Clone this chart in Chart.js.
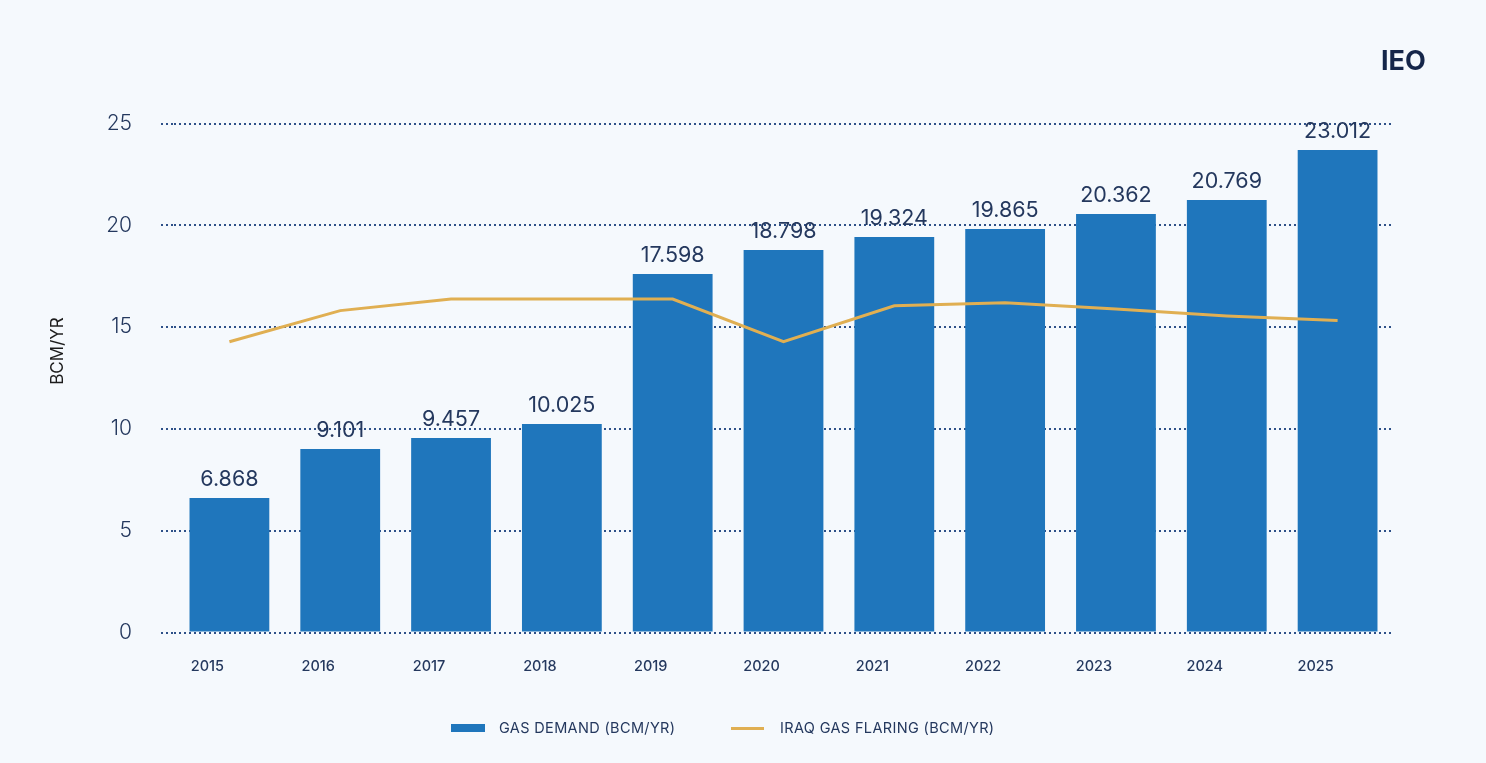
<!DOCTYPE html>
<html>
<head>
<meta charset="utf-8">
<script src="https://cdn.jsdelivr.net/npm/chart.js@4.4.1/dist/chart.umd.min.js"></script>
<style>
  html, body { margin: 0; padding: 0; background: #f5f9fd; }
  #wrap { position: relative; width: 1486px; height: 763px; }
  #ieo { position: absolute; left: 1381px; top: 44px; font: 700 27px Inter, sans-serif; color: #15264a; }
  #legend { position: absolute; top: 718px; left: 0; width: 1486px; font: 400 14.5px Inter, sans-serif; letter-spacing: 0.35px; color: #24385e; }
  .lg { position: absolute; top: 0; line-height: 20px; white-space: nowrap; }
  .sw { position: absolute; }
</style>
</head>
<body>
<div id="wrap">
  <canvas id="gasChart" width="1486" height="763"></canvas>
  <div id="ieo">IEO</div>
  <div id="legend">
    <span class="sw" style="left:451px;top:6px;width:34px;height:8px;background:#1f76bc"></span>
    <span class="lg" style="left:499px">GAS DEMAND (BCM/YR)</span>
    <span class="sw" style="left:731px;top:9px;width:33px;height:3px;background:#e0af52"></span>
    <span class="lg" style="left:780px">IRAQ GAS FLARING (BCM/YR)</span>
  </div>
</div>
<script>
// ปี (แกน X)
const years = ['2015', '2016', '2017', '2018', '2019', '2020', '2021', '2022', '2023', '2024', '2025'];
// ความสูงแท่งตามที่วาดในรูป
const gasDemand = [6.61, 9.01, 9.55, 10.24, 17.61, 18.79, 19.43, 19.82, 20.56, 21.24, 23.70];
// ตัวเลขที่พิมพ์บนแท่ง
const demandLabels = ['6.868', '9.101', '9.457', '10.025', '17.598', '18.798', '19.324', '19.865', '20.362', '20.769', '23.012'];
// เส้น gas flaring
const gasFlaring = [14.28, 15.81, 16.38, 16.38, 16.38, 14.28, 16.05, 16.20, 15.89, 15.55, 15.33];
const yTicks = [0, 5, 10, 15, 20, 25];

const TEXT = '#24385e';

// เขียนตัวเลขบนแท่ง + ชื่อแกน Y
const barLabels = {
    id: 'barLabels',
    afterDatasetsDraw(chart) {
        const ctx = chart.ctx;
        const meta = chart.getDatasetMeta(0);
        ctx.save();
        ctx.font = '400 21.5px Inter, sans-serif';
        ctx.fillStyle = TEXT;
        ctx.textAlign = 'center';
        ctx.textBaseline = 'alphabetic';
        meta.data.forEach((bar, i) => {
            ctx.fillText(demandLabels[i], bar.x, bar.y - 12);
        });
        ctx.translate(58, 351);
        ctx.rotate(-Math.PI / 2);
        ctx.font = '400 17px Inter, sans-serif';
        ctx.fillStyle = '#1c1c1c';
        ctx.textBaseline = 'middle';
        ctx.fillText('BCM/YR', 0, 0);
        ctx.restore();
    }
};

new Chart(document.getElementById('gasChart').getContext('2d'), {
    type: 'bar',
    data: {
        labels: years,
        datasets: [
            {
                label: 'GAS DEMAND (BCM/YR)',
                data: gasDemand,
                backgroundColor: '#1f76bc',
                categoryPercentage: 1,
                barPercentage: 0.72,
                order: 1
            },
            {
                type: 'line',
                label: 'IRAQ GAS FLARING (BCM/YR)',
                data: gasFlaring,
                borderColor: '#e0af52',
                borderWidth: 3,
                pointRadius: 0,
                tension: 0,
                order: 0
            }
        ]
    },
    options: {
        responsive: false,
        animation: false,
        layout: { padding: { left: 0, right: 93, top: 123.5, bottom: 0 } },
        scales: {
            x: {
                grid: { display: false },
                border: { display: false },
                ticks: { color: TEXT, font: { family: 'Inter', size: 14.5, weight: 500 }, padding: 17, labelOffset: -22, maxRotation: 0 },
                afterFit(scale) { scale.height = 130.5; }
            },
            y: {
                min: 0, max: 25,
                afterBuildTicks(scale) { scale.ticks = yTicks.map(v => ({ value: v })); },
                grid: { color: '#2d5088', lineWidth: 2, tickLength: 13, tickColor: '#2d5088', tickWidth: 2, tickBorderDash: [2, 3] },
                border: { display: false, dash: [2, 3] },
                ticks: { color: TEXT, font: { family: 'Inter', size: 21, weight: 300 }, padding: 29 },
                afterFit(scale) { scale.width = 174; }
            }
        },
        plugins: {
            legend: { display: false },
            tooltip: { enabled: false }
        }
    },
    plugins: [barLabels]
});
</script>
</body>
</html>
